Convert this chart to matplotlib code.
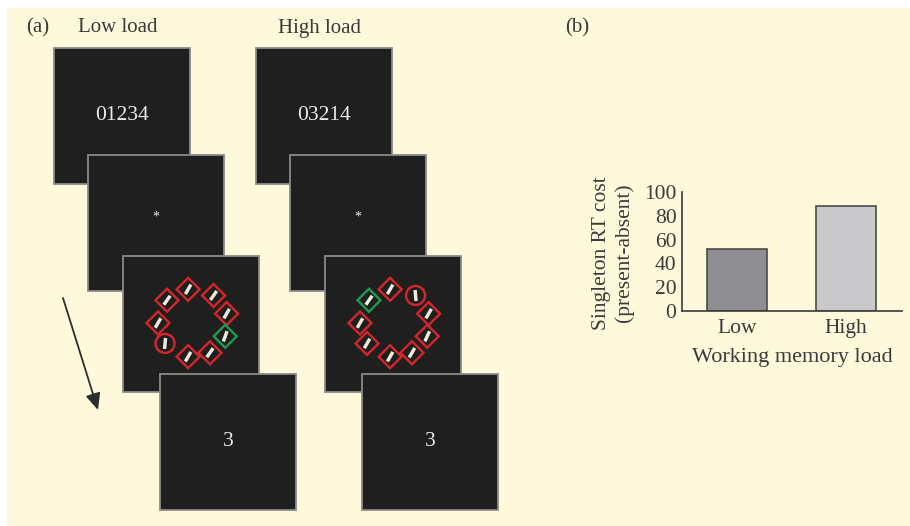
"""Working memory load and attentional capture: task sequence and singleton cost."""

import matplotlib
import numpy as np

matplotlib.use("Agg")

import matplotlib.pyplot as plt  # noqa: E402
from matplotlib.patches import Circle, Polygon, Rectangle  # noqa: E402

plt.rcParams["font.family"] = ["Liberation Serif", "DejaVu Serif"]

# panel (b)
load_levels = ["Low", "High"]
singleton_cost = [52, 88]
bar_colors = ["#8f8f93", "#c9c9cb"]
y_ticks = [0, 20, 40, 60, 80, 100]

# panel (a)
conditions = ["Low load", "High load"]
memory_sets = ["01234", "03214"]
probe_digits = ["3", "3"]
item_angles = [16, 54, 98, 138, 180, 217, 262, 299, 337]
# D = red diamond, O = red circle, G = green diamond
low_shapes = ["D", "D", "D", "D", "D", "O", "D", "D", "G"]
high_shapes = ["D", "O", "D", "G", "D", "D", "D", "D", "D"]
line_tilts_low = [60, 55, 60, 55, 60, 85, 60, 55, 70]
line_tilts_high = [60, 95, 60, 55, 60, 60, 60, 60, 65]

W, H = 910, 526
TEXT = "#3a3a3a"
CREAM = "#fef9db"
FRAME = "#1f1f1f"
RED = "#d2262b"
GREEN = "#1f9a4c"
PX = 0.72  # points per pixel at dpi 100
FS = 15.5

fig = plt.figure(figsize=(W / 100, H / 100), dpi=100, facecolor="white")
ax = fig.add_axes([0, 0, 1, 1])
ax.set_xlim(0, W)
ax.set_ylim(H, 0)
ax.axis("off")
ax.add_patch(Rectangle((7, 8), W, H, facecolor=CREAM, edgecolor="none", zorder=0))

col_x = [54, 256]
top_y = 48
size = 136
offsets = [(0, 0), (34, 107), (69, 208), (106, 326)]


def draw_frame(x, y):
    ax.add_patch(
        Rectangle((x, y), size, size, facecolor=FRAME, edgecolor="#8c8a86",
                  linewidth=1.8 * PX, zorder=2)
    )


def draw_item(cx, cy, shape, tilt):
    z = 3
    if shape == "O":
        ax.add_patch(Circle((cx, cy), 9.5, facecolor="none", edgecolor=RED,
                            linewidth=2.4 * PX, zorder=z))
    else:
        half = 11.5
        pts = [(cx + half * np.cos(np.radians(a)), cy - half * np.sin(np.radians(a)))
               for a in (0, 90, 180, 270)]
        ax.add_patch(Polygon(pts, closed=True, facecolor="none",
                             edgecolor=GREEN if shape == "G" else RED,
                             linewidth=2.4 * PX, zorder=z))
    t = np.radians(tilt)
    dx, dy = 5.5 * np.cos(t), -5.5 * np.sin(t)
    ax.plot([cx - dx, cx + dx], [cy - dy, cy + dy], color="#efecdc",
            linewidth=3.4 * PX, solid_capstyle="butt", zorder=z + 1)


for i, x0 in enumerate(col_x):
    frames = [(x0 + ox, top_y + oy) for ox, oy in offsets]
    for fx, fy in frames:
        draw_frame(fx, fy)
    # memory set
    fx, fy = frames[0]
    ax.text(fx + size / 2, fy + size / 2 - 1, memory_sets[i], color="#ececec",
            fontsize=FS, ha="center", va="center", zorder=5)
    # fixation
    fx, fy = frames[1]
    ax.text(fx + size / 2, fy + size / 2 - 6, "*", color="#ececec",
            fontsize=10, ha="center", va="center", zorder=5)
    # search display
    fx, fy = frames[2]
    cx, cy = fx + 70, fy + 67
    shapes = low_shapes if i == 0 else high_shapes
    tilts = line_tilts_low if i == 0 else line_tilts_high
    for ang, shp, tl in zip(item_angles, shapes, tilts):
        a = np.radians(ang)
        draw_item(cx + 35 * np.cos(a), cy - 34 * np.sin(a), shp, tl)
    # memory probe
    fx, fy = frames[3]
    ax.text(fx + size / 2, fy + size / 2, probe_digits[i], color="#ececec",
            fontsize=FS, ha="center", va="center", zorder=5)

ax.text(38, 28, "(a)", fontsize=15, color=TEXT, ha="center", va="center")
ax.text(118, 28, conditions[0], fontsize=15, color=TEXT, ha="center", va="center")
ax.text(320, 28, conditions[1], fontsize=15, color=TEXT, ha="center", va="center")
ax.text(577, 28, "(b)", fontsize=15, color=TEXT, ha="center", va="center")

ax.annotate("", xy=(98, 410), xytext=(63, 298),
            arrowprops=dict(arrowstyle="-|>,head_length=1.0,head_width=0.45",
                            color="#2e2e2e", linewidth=1.3, shrinkA=0, shrinkB=0))

# panel (b)
axb = fig.add_axes([682 / W, 1 - 311 / H, 220 / W, 119 / H], facecolor="none")
xpos = np.arange(len(load_levels))
axb.bar(xpos, singleton_cost, width=0.55, color=bar_colors, edgecolor="#4a4a4a",
        linewidth=1.2, zorder=2)
axb.set_xlim(-0.505, 1.513)
axb.set_ylim(0, 100)
axb.set_yticks(y_ticks)
axb.set_xticks(xpos, load_levels)
axb.tick_params(length=0, labelsize=FS, labelcolor=TEXT)
axb.tick_params(axis="y", pad=4)
axb.tick_params(axis="x", pad=6)
for side in ("top", "right"):
    axb.spines[side].set_visible(False)
for side in ("left", "bottom"):
    axb.spines[side].set_color("#3a3a3a")
    axb.spines[side].set_linewidth(1.2)
axb.set_xlabel("Working memory load", fontsize=FS + 0.5, color=TEXT, labelpad=7)
fig.text(613 / W, 1 - 253 / H, "Singleton RT cost\n(present-absent)", rotation=90,
         ha="center", va="center", multialignment="center", fontsize=FS,
         color=TEXT, linespacing=1.25)

fig.savefig("out.png", dpi=100, facecolor="white")
